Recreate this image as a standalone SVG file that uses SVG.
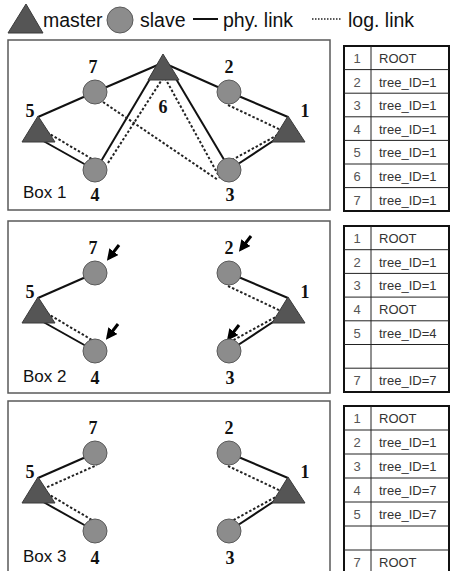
<svg xmlns="http://www.w3.org/2000/svg" width="451" height="571" viewBox="0 0 451 571">
  <style>
    .box { fill: #ffffff; stroke: #5a5a5a; stroke-width: 1.5; }
    .master { fill: #555555; stroke: #3a3a3a; stroke-width: 1; }
    .slave { fill: #8c8c8c; stroke: #5a5a5a; stroke-width: 1; }
    .phy { stroke: #111111; stroke-width: 2; fill: none; }
    .log { stroke: #222222; stroke-width: 2; stroke-dasharray: 2.5 2; fill: none; }
    .num { font-family: "Liberation Serif", "Times New Roman", serif; font-weight: bold; font-size: 18px; fill: #111111; text-anchor: middle; }
    .boxlabel { font-family: "Liberation Sans", Arial, sans-serif; font-size: 17px; fill: #111111; }
    .legend { font-family: "Liberation Sans", Arial, sans-serif; font-size: 19.5px; fill: #111111; }
    .tbl-outer { fill: #ffffff; stroke: #111111; stroke-width: 2; }
    .tbl-line { stroke: #222222; stroke-width: 1; }
    .tbl-id { font-family: "Liberation Sans", Arial, sans-serif; font-size: 13px; fill: #555555; text-anchor: middle; }
    .tbl-txt { font-family: "Liberation Sans", Arial, sans-serif; font-size: 13px; fill: #333333; }
    .arrow { stroke: #000000; stroke-width: 3; fill: none; }
  </style>
  <defs>
    <marker id="head" viewBox="0 0 10 10" refX="7" refY="5" markerWidth="3.8" markerHeight="3.8" orient="auto">
      <path d="M0,0 L10,5 L0,10 z" fill="#000000"/>
    </marker>
  </defs>

  <rect width="451" height="571" fill="#ffffff"/>

  <!-- legend -->
  <g id="legend">
    <polygon class="master" points="8,33 26,4 43,33"/>
    <text class="legend" x="43" y="27">master</text>
    <circle class="slave" cx="120" cy="20" r="13"/>
    <text class="legend" x="140" y="27">slave</text>
    <line class="phy" x1="193" y1="19" x2="218" y2="19"/>
    <text class="legend" x="223" y="27">phy. link</text>
    <line x1="312" y1="19" x2="342" y2="19" stroke="#222222" stroke-width="1.5" stroke-dasharray="1.5 1.5"/>
    <text class="legend" x="348" y="27">log. link</text>
  </g>

  <!-- Box 1: full topology -->
  <g id="box1" transform="translate(0,40)">
    <rect class="box" x="8" y="0" width="322" height="170"/>
    <g id="box1-connectors">
      <line class="phy" x1="38" y1="77" x2="95" y2="52"/>
      <line class="phy" x1="95" y1="52" x2="160" y2="24"/>
      <line class="phy" x1="166" y1="24" x2="229" y2="52"/>
      <line class="phy" x1="229" y1="52" x2="288" y2="77"/>
      <line class="phy" x1="276" y1="99" x2="229" y2="130"/>
      <line class="phy" x1="38" y1="98" x2="95" y2="130"/>
      <line class="phy" x1="97" y1="128" x2="160" y2="22"/>
      <line class="phy" x1="166" y1="22" x2="229" y2="128"/>
      <line class="log" x1="103" y1="62" x2="218" y2="140"/>
      <line class="log" x1="43" y1="90" x2="97" y2="122"/>
      <line class="log" x1="108" y1="123" x2="163" y2="38"/>
      <line class="log" x1="165" y1="38" x2="220" y2="138"/>
      <line class="log" x1="228" y1="65" x2="283" y2="91"/>
      <line class="log" x1="232" y1="120" x2="283" y2="92"/>
    </g>
    <g id="n1-6"><polygon class="master" points="148,40 163,14 179,40"/><text class="num" x="163" y="73">6</text></g>
    <g id="n1-7"><circle class="slave" cx="95" cy="52" r="12"/><text class="num" x="93" y="33">7</text></g>
    <g id="n1-2"><circle class="slave" cx="229" cy="52" r="12"/><text class="num" x="229" y="33">2</text></g>
    <g id="n1-5"><polygon class="master" points="22,102 38,76 55,102"/><text class="num" x="30" y="77">5</text></g>
    <g id="n1-1"><polygon class="master" points="272,102 288,76 305,102"/><text class="num" x="305" y="77">1</text></g>
    <g id="n1-4"><circle class="slave" cx="95" cy="130" r="12"/><text class="num" x="95" y="161">4</text></g>
    <g id="n1-3"><circle class="slave" cx="229" cy="130" r="12"/><text class="num" x="230" y="161">3</text></g>
    <text class="boxlabel" x="23" y="158">Box 1</text>
  </g>

  <!-- Box 2: after the link failure -->
  <g id="box2" transform="translate(0,221)">
    <rect class="box" x="8" y="0" width="322" height="172"/>
    <g id="box2-connectors">
      <line class="phy" x1="38" y1="77" x2="95" y2="52"/>
      <line class="phy" x1="38" y1="98" x2="95" y2="130"/>
      <line class="phy" x1="229" y1="52" x2="288" y2="77"/>
      <line class="phy" x1="276" y1="99" x2="229" y2="130"/>
      <line class="log" x1="43" y1="90" x2="97" y2="122"/>
      <line class="log" x1="228" y1="65" x2="283" y2="91"/>
      <line class="log" x1="283" y1="92" x2="230" y2="121"/>
      <line class="arrow" x1="119" y1="24" x2="109" y2="37" marker-end="url(#head)"/>
      <line class="arrow" x1="118" y1="103" x2="108" y2="116" marker-end="url(#head)"/>
      <line class="arrow" x1="251" y1="15" x2="241" y2="28" marker-end="url(#head)"/>
      <line class="arrow" x1="239" y1="104" x2="229" y2="117" marker-end="url(#head)"/>
    </g>
    <g id="n2-7"><circle class="slave" cx="95" cy="52" r="12"/><text class="num" x="93" y="33">7</text></g>
    <g id="n2-2"><circle class="slave" cx="229" cy="52" r="12"/><text class="num" x="229" y="33">2</text></g>
    <g id="n2-5"><polygon class="master" points="22,102 38,76 55,102"/><text class="num" x="30" y="77">5</text></g>
    <g id="n2-1"><polygon class="master" points="272,102 288,76 305,102"/><text class="num" x="305" y="77">1</text></g>
    <g id="n2-4"><circle class="slave" cx="95" cy="130" r="12"/><text class="num" x="95" y="163">4</text></g>
    <g id="n2-3"><circle class="slave" cx="229" cy="130" r="12"/><text class="num" x="230" y="163">3</text></g>
    <text class="boxlabel" x="23" y="161">Box 2</text>
  </g>

  <!-- Box 3: recovered trees -->
  <g id="box3" transform="translate(0,401)">
    <rect class="box" x="8" y="0" width="322" height="180"/>
    <g id="box3-connectors">
      <line class="phy" x1="38" y1="77" x2="95" y2="52"/>
      <line class="phy" x1="38" y1="98" x2="95" y2="130"/>
      <line class="phy" x1="229" y1="52" x2="288" y2="77"/>
      <line class="phy" x1="276" y1="99" x2="229" y2="130"/>
      <line class="log" x1="43" y1="88" x2="97" y2="64"/>
      <line class="log" x1="43" y1="90" x2="97" y2="122"/>
      <line class="log" x1="228" y1="65" x2="283" y2="91"/>
      <line class="log" x1="283" y1="92" x2="230" y2="121"/>
    </g>
    <g id="n3-7"><circle class="slave" cx="95" cy="52" r="12"/><text class="num" x="93" y="33">7</text></g>
    <g id="n3-2"><circle class="slave" cx="229" cy="52" r="12"/><text class="num" x="229" y="33">2</text></g>
    <g id="n3-5"><polygon class="master" points="22,102 38,76 55,102"/><text class="num" x="30" y="77">5</text></g>
    <g id="n3-1"><polygon class="master" points="272,102 288,76 305,102"/><text class="num" x="305" y="77">1</text></g>
    <g id="n3-4"><circle class="slave" cx="95" cy="130" r="12"/><text class="num" x="95" y="163">4</text></g>
    <g id="n3-3"><circle class="slave" cx="229" cy="130" r="12"/><text class="num" x="230" y="163">3</text></g>
    <text class="boxlabel" x="23" y="161">Box 3</text>
  </g>

  <!-- tree tables -->
  <g id="table1" transform="translate(0,46)">
    <rect class="tbl-outer" x="344" y="0" width="105" height="165"/>
    <line class="tbl-line" x1="371" y1="0" x2="371" y2="165"/>
    <line class="tbl-line" x1="344" y1="23.6" x2="449" y2="23.6"/>
    <line class="tbl-line" x1="344" y1="47.2" x2="449" y2="47.2"/>
    <line class="tbl-line" x1="344" y1="70.8" x2="449" y2="70.8"/>
    <line class="tbl-line" x1="344" y1="94.4" x2="449" y2="94.4"/>
    <line class="tbl-line" x1="344" y1="118" x2="449" y2="118"/>
    <line class="tbl-line" x1="344" y1="141.6" x2="449" y2="141.6"/>
    <text class="tbl-id" x="357" y="17">1</text><text class="tbl-txt" x="379" y="17">ROOT</text>
    <text class="tbl-id" x="357" y="40.6">2</text><text class="tbl-txt" x="379" y="40.6">tree_ID=1</text>
    <text class="tbl-id" x="357" y="64.2">3</text><text class="tbl-txt" x="379" y="64.2">tree_ID=1</text>
    <text class="tbl-id" x="357" y="87.8">4</text><text class="tbl-txt" x="379" y="87.8">tree_ID=1</text>
    <text class="tbl-id" x="357" y="111.4">5</text><text class="tbl-txt" x="379" y="111.4">tree_ID=1</text>
    <text class="tbl-id" x="357" y="135">6</text><text class="tbl-txt" x="379" y="135">tree_ID=1</text>
    <text class="tbl-id" x="357" y="158.6">7</text><text class="tbl-txt" x="379" y="158.6">tree_ID=1</text>
  </g>

  <g id="table2" transform="translate(0,226)">
    <rect class="tbl-outer" x="344" y="0" width="105" height="166"/>
    <line class="tbl-line" x1="371" y1="0" x2="371" y2="166"/>
    <line class="tbl-line" x1="344" y1="23.7" x2="449" y2="23.7"/>
    <line class="tbl-line" x1="344" y1="47.4" x2="449" y2="47.4"/>
    <line class="tbl-line" x1="344" y1="71.1" x2="449" y2="71.1"/>
    <line class="tbl-line" x1="344" y1="94.8" x2="449" y2="94.8"/>
    <line class="tbl-line" x1="344" y1="118.5" x2="449" y2="118.5"/>
    <line class="tbl-line" x1="344" y1="142.2" x2="449" y2="142.2"/>
    <text class="tbl-id" x="357" y="17">1</text><text class="tbl-txt" x="379" y="17">ROOT</text>
    <text class="tbl-id" x="357" y="40.7">2</text><text class="tbl-txt" x="379" y="40.7">tree_ID=1</text>
    <text class="tbl-id" x="357" y="64.4">3</text><text class="tbl-txt" x="379" y="64.4">tree_ID=1</text>
    <text class="tbl-id" x="357" y="88.1">4</text><text class="tbl-txt" x="379" y="88.1">ROOT</text>
    <text class="tbl-id" x="357" y="111.8">5</text><text class="tbl-txt" x="379" y="111.8">tree_ID=4</text>
    <text class="tbl-id" x="357" y="159.2">7</text><text class="tbl-txt" x="379" y="159.2">tree_ID=7</text>
  </g>

  <g id="table3" transform="translate(0,406)">
    <rect class="tbl-outer" x="344" y="0" width="105" height="175"/>
    <line class="tbl-line" x1="371" y1="0" x2="371" y2="175"/>
    <line class="tbl-line" x1="344" y1="24" x2="449" y2="24"/>
    <line class="tbl-line" x1="344" y1="48" x2="449" y2="48"/>
    <line class="tbl-line" x1="344" y1="72" x2="449" y2="72"/>
    <line class="tbl-line" x1="344" y1="96" x2="449" y2="96"/>
    <line class="tbl-line" x1="344" y1="120" x2="449" y2="120"/>
    <line class="tbl-line" x1="344" y1="144" x2="449" y2="144"/>
    <text class="tbl-id" x="357" y="17">1</text><text class="tbl-txt" x="379" y="17">ROOT</text>
    <text class="tbl-id" x="357" y="41">2</text><text class="tbl-txt" x="379" y="41">tree_ID=1</text>
    <text class="tbl-id" x="357" y="65">3</text><text class="tbl-txt" x="379" y="65">tree_ID=1</text>
    <text class="tbl-id" x="357" y="89">4</text><text class="tbl-txt" x="379" y="89">tree_ID=7</text>
    <text class="tbl-id" x="357" y="113">5</text><text class="tbl-txt" x="379" y="113">tree_ID=7</text>
    <text class="tbl-id" x="357" y="161">7</text><text class="tbl-txt" x="379" y="161">ROOT</text>
  </g>
</svg>
